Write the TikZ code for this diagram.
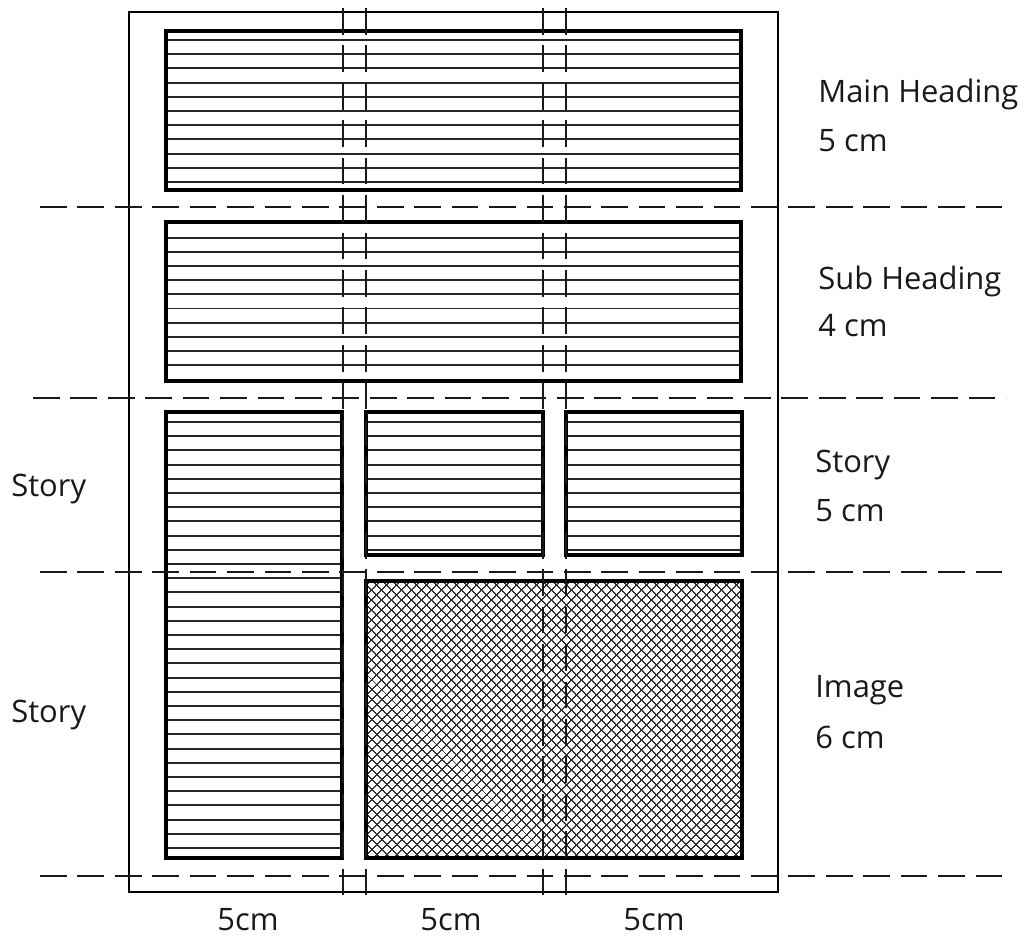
\documentclass[tikz,border=0pt]{standalone}
\usepackage{fontspec}
\setmainfont{Open Sans}
\usetikzlibrary{patterns.meta}

\begin{document}
\begin{tikzpicture}[x=0.02cm, y=-0.02cm,
    guide/.style={line width=1.6pt, dash pattern=on 15.2pt off 6.1pt, black!90},
    panel/.style={line width=2.2pt},
    ruling/.style={line width=1.1pt, black!85},
    page/.style={line width=1pt},
    sizetext/.style={anchor=base west, inner sep=0pt, font=\fontsize{17.6}{21}\selectfont, text=black!90},
    coltext/.style={sizetext, anchor=base}
]
\useasboundingbox (0,0) rectangle (1026,935);

% page outline
\draw[page] (129,12) rectangle (778,892);

% image area
\fill[pattern={Lines[angle=45,distance=4pt,line width=0.7pt]}, pattern color=black!80] (366,581) rectangle (742,858);
\fill[pattern={Lines[angle=-45,distance=4pt,line width=0.7pt]}, pattern color=black!80] (366,581) rectangle (742,858);

% text lines
\foreach \k in {0,...,10} \draw[ruling] (166,{40+14.2*\k}) -- (741,{40+14.2*\k});
\foreach \k in {0,...,9} \draw[ruling] (166,{238+14.1*\k}) -- (741,{238+14.1*\k});
\foreach \k in {0,...,30} \draw[ruling] (166,{422+14.2*\k}) -- (342,{422+14.2*\k});
\foreach \k in {0,...,9} {
  \draw[ruling] (366,{422+14.2*\k}) -- (543,{422+14.2*\k});
  \draw[ruling] (566,{422+14.2*\k}) -- (742,{422+14.2*\k});
}

% panels
\draw[panel] (166,31) rectangle (741,190);
\draw[panel] (166,222) rectangle (741,381);
\draw[panel] (166,412) rectangle (342,858);
\draw[panel] (366,412) rectangle (543,555);
\draw[panel] (566,412) rectangle (742,555);
\draw[panel] (366,581) rectangle (742,858);

% guides
\foreach \y/\x in {207/40, 398/33, 572/40, 876/40} \draw[guide] (\x,\y) -- (1006,\y);
\foreach \x in {343,366,543,566} \draw[guide] (\x,8) -- (\x,897);

% sizes
\node[sizetext] (mainhead) at (818,103) {Main Heading};
\node[sizetext] (mainsize) at (818,152) {5 cm};
\node[sizetext] (subhead) at (818,290) {Sub Heading};
\node[sizetext] (subsize) at (818,337) {4 cm};
\node[sizetext] (storyhead) at (815,472) {Story};
\node[sizetext] (storysize) at (815,521) {5 cm};
\node[sizetext] (imagehead) at (815,697) {Image};
\node[sizetext] (imagesize) at (815,748) {6 cm};
\node[sizetext] (storyA) at (11,496) {Story};
\node[sizetext] (storyB) at (11,722) {Story};
\node[coltext] (colA) at (248,930) {5cm};
\node[coltext] (colB) at (451,930) {5cm};
\node[coltext] (colC) at (654,930) {5cm};
\end{tikzpicture}
\end{document}
